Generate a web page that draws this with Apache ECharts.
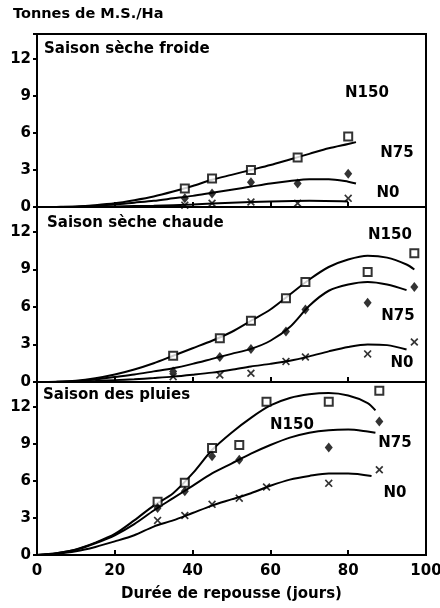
<!DOCTYPE html>
<html>
<head>
<meta charset="utf-8">
<script src="https://cdn.jsdelivr.net/npm/echarts@6/dist/echarts.min.js"></script>
<style>
body { margin: 0; background: #fff; }
#chart { width: 440px; height: 608px; }
</style>
</head>
<body>
<div id="chart"></div>
<script>
// titres des panneaux
var titres = ['Saison sèche froide', 'Saison sèche chaude', 'Saison des pluies'];
var yTicks = [0, 3, 6, 9, 12];

// saison seche froide - points mesures
var jours1 = [38, 45, 55, 67, 80];
var n150_1 = [1.5, 2.3, 3.0, 4.0, 5.7];
var n75_1 = [0.7, 1.1, 2.0, 1.9, 2.7];
var n0_1 = [0.15, 0.3, 0.4, 0.3, 0.7];
// courbes ajustees
var fit150X_1 = [0, 5, 10, 15, 20, 25, 30, 35, 40, 45, 50, 55, 60, 65, 70, 75, 80, 82];
var fit150_1 = [0, 0.01, 0.05, 0.15, 0.3, 0.55, 0.85, 1.25, 1.7, 2.2, 2.6, 3.0, 3.4, 3.85, 4.3, 4.75, 5.1, 5.25];
var fit75X_1 = [0, 5, 10, 15, 20, 25, 30, 35, 40, 45, 50, 55, 60, 65, 70, 75, 80, 82];
var fit75_1 = [0, 0.01, 0.03, 0.1, 0.2, 0.35, 0.5, 0.7, 0.9, 1.15, 1.4, 1.65, 1.9, 2.1, 2.25, 2.25, 2.05, 1.9];
var fit0X_1 = [0, 10, 20, 30, 40, 50, 60, 70, 80];
var fit0_1 = [0, 0, 0.05, 0.1, 0.2, 0.35, 0.45, 0.5, 0.45];

// saison seche chaude
var jours2 = [35, 47, 55, 64, 69, 85, 97];
var n150_2 = [2.1, 3.5, 4.9, 6.7, 8.0, 8.8, 10.3];
var n75_2 = [0.85, 2.0, 2.65, 4.05, 5.8, 6.35, 7.6];
var n0_2 = [0.43, 0.56, 0.7, 1.65, 2.0, 2.25, 3.2];
var fit150X_2 = [0, 5, 10, 15, 20, 25, 30, 35, 40, 45, 50, 55, 60, 65, 70, 75, 80, 85, 90, 95, 97];
var fit150_2 = [0, 0.02, 0.1, 0.3, 0.6, 1.0, 1.5, 2.1, 2.7, 3.3, 4.0, 4.9, 5.8, 7.0, 8.2, 9.2, 9.8, 10.1, 9.95, 9.4, 9.0];
var fit75X_2 = [0, 5, 10, 15, 20, 25, 30, 35, 40, 45, 50, 55, 60, 65, 70, 75, 80, 85, 90, 95];
var fit75_2 = [0, 0.02, 0.07, 0.2, 0.4, 0.6, 0.85, 1.1, 1.45, 1.85, 2.25, 2.65, 3.3, 4.4, 6.1, 7.3, 7.8, 8.0, 7.8, 7.35];
var fit0X_2 = [0, 5, 10, 15, 20, 25, 30, 35, 40, 45, 50, 55, 60, 65, 70, 75, 80, 85, 90, 95];
var fit0_2 = [0, 0.01, 0.03, 0.08, 0.15, 0.22, 0.32, 0.43, 0.58, 0.75, 0.98, 1.24, 1.45, 1.7, 2.05, 2.45, 2.8, 3.0, 2.95, 2.6];

// saison des pluies
var jours3 = [31, 38, 45, 52, 59, 75, 88];
var n150_3 = [4.3, 5.85, 8.65, 8.9, 12.4, 12.4, 13.3];
var n75_3 = [3.8, 5.15, 8.0, 7.7, null, 8.7, 10.8];
var n0_3 = [2.8, 3.2, 4.1, 4.6, 5.5, 5.8, 6.9];
var fit150X_3 = [0, 5, 10, 15, 20, 25, 30, 35, 40, 45, 50, 55, 60, 65, 70, 75, 80, 85, 87];
var fit150_3 = [0, 0.15, 0.45, 1.0, 1.7, 2.8, 4.0, 5.0, 6.6, 8.5, 9.9, 11.1, 12.1, 12.7, 13.0, 13.1, 12.9, 12.3, 11.7];
var fit75X_3 = [0, 5, 10, 15, 20, 25, 30, 35, 40, 45, 50, 55, 60, 65, 70, 75, 80, 85, 87];
var fit75_3 = [0, 0.15, 0.42, 0.95, 1.6, 2.5, 3.6, 4.6, 5.6, 6.6, 7.4, 8.2, 8.9, 9.5, 9.9, 10.1, 10.15, 10.0, 9.9];
var fit0X_3 = [0, 5, 10, 15, 20, 25, 30, 35, 40, 45, 50, 55, 60, 65, 70, 75, 80, 86];
var fit0_3 = [0, 0.1, 0.3, 0.65, 1.1, 1.6, 2.3, 2.8, 3.4, 4.0, 4.5, 5.0, 5.6, 6.1, 6.4, 6.6, 6.6, 6.4];

function paires(xs, ys) {
    var out = [];
    for (var i = 0; i < xs.length; i++) {
        if (ys[i] != null) out.push([xs[i], ys[i]]);
    }
    return out;
}

var police = 'DejaVu Sans';
var symX = 'path://M0,1.5 L1.5,0 L5,3.5 L8.5,0 L10,1.5 L6.5,5 L10,8.5 L8.5,10 L5,6.5 L1.5,10 L0,8.5 L3.5,5 Z';

var panneaux = [
    {jours: jours1, n150: n150_1, n75: n75_1, n0: n0_1,
     f150: [fit150X_1, fit150_1], f75: [fit75X_1, fit75_1], f0: [fit0X_1, fit0_1]},
    {jours: jours2, n150: n150_2, n75: n75_2, n0: n0_2,
     f150: [fit150X_2, fit150_2], f75: [fit75X_2, fit75_2], f0: [fit0X_2, fit0_2]},
    {jours: jours3, n150: n150_3, n75: n75_3, n0: n0_3,
     f150: [fit150X_3, fit150_3], f75: [fit75X_3, fit75_3], f0: [fit0X_3, fit0_3]}
];

var grids = [
    {left: 37, top: 34, width: 389, height: 173},
    {left: 37, top: 207, width: 389, height: 175},
    {left: 37, top: 382, width: 389, height: 173}
];

var xAxes = [], yAxes = [], series = [];
grids.forEach(function (g, i) {
    g.show = true;
    g.borderColor = '#000';
    g.borderWidth = 2;
    g.backgroundColor = 'transparent';
    g.containLabel = false;
    g.outerBoundsMode = 'none';
    xAxes.push({
        type: 'value', gridIndex: i, min: 0, max: 100, interval: 20,
        axisLine: {show: true, lineStyle: {color: '#000', width: 2}},
        axisTick: {show: true, inside: true, length: 5, lineStyle: {color: '#000', width: 2}},
        axisLabel: {show: i == 2, color: '#000', fontFamily: police, fontWeight: 'bold', fontSize: 15, margin: 9},
        splitLine: {show: false},
        name: i == 2 ? 'Durée de repousse (jours)' : '',
        nameLocation: 'middle', nameGap: 32,
        nameTextStyle: {color: '#000', fontFamily: police, fontWeight: 'bold', fontSize: 15}
    });
    yAxes.push({
        type: 'value', gridIndex: i, min: 0, max: 14, interval: 3,
        axisLine: {show: true, lineStyle: {color: '#000', width: 2}},
        axisTick: {show: true, length: 4, lineStyle: {color: '#000', width: 2}},
        axisLabel: {color: '#000', fontFamily: police, fontWeight: 'bold', fontSize: 15, margin: 6,
            formatter: function (v) { return yTicks.indexOf(v) >= 0 ? v : ''; }},
        splitLine: {show: false}
    });

    var p = panneaux[i];
    [p.f150, p.f75, p.f0].forEach(function (f) {
        series.push({
            type: 'line', xAxisIndex: i, yAxisIndex: i,
            data: paires(f[0], f[1]), smooth: 0.3, showSymbol: false, silent: true,
            lineStyle: {color: '#000', width: 2}, z: 2
        });
    });
    series.push({
        type: 'scatter', xAxisIndex: i, yAxisIndex: i, data: paires(p.jours, p.n150),
        symbol: 'rect', symbolSize: 8,
        itemStyle: {color: '#fff', borderColor: '#000', borderWidth: 2}, z: 3
    });
    series.push({
        type: 'scatter', xAxisIndex: i, yAxisIndex: i, data: paires(p.jours, p.n75),
        symbol: 'diamond', symbolSize: [8, 10],
        itemStyle: {color: '#000'}, z: 3
    });
    series.push({
        type: 'scatter', xAxisIndex: i, yAxisIndex: i, data: paires(p.jours, p.n0),
        symbol: symX, symbolSize: 8,
        itemStyle: {color: '#000'}, z: 3
    });
});

var graphics = [
    {type: 'text', x: 13, y: 14, z: 10,
     style: {text: 'Tonnes de M.S./Ha', fill: '#000', font: 'bold 14.5px "' + police + '"', textVerticalAlign: 'middle'}},
    {type: 'text', x: 44, y: 49, z: 10,
     style: {text: titres[0], fill: '#000', font: 'bold 15px "' + police + '"', textVerticalAlign: 'middle'}},
    {type: 'text', x: 47, y: 223, z: 10,
     style: {text: titres[1], fill: '#000', font: 'bold 15px "' + police + '"', textVerticalAlign: 'middle'}},
    {type: 'text', x: 43, y: 395, z: 10,
     style: {text: titres[2], fill: '#000', font: 'bold 15px "' + police + '"', textVerticalAlign: 'middle'}}
];
var etiquettes = [
    ['N150', 367, 93], ['N75', 397, 153], ['N0', 388, 193],
    ['N150', 390, 235], ['N75', 398, 316], ['N0', 402, 363],
    ['N150', 292, 425], ['N75', 395, 443], ['N0', 395, 493]
];
etiquettes.forEach(function (e) {
    graphics.push({type: 'text', x: e[1], y: e[2], z: 10,
        style: {text: e[0], fill: '#000', font: 'bold 15px "' + police + '"',
            textAlign: 'center', textVerticalAlign: 'middle'}});
});

var chart = echarts.init(document.getElementById('chart'));
chart.setOption({
    backgroundColor: '#fff',
    animation: false,
    grid: grids,
    xAxis: xAxes,
    yAxis: yAxes,
    series: series,
    graphic: graphics
});
</script>
</body>
</html>
